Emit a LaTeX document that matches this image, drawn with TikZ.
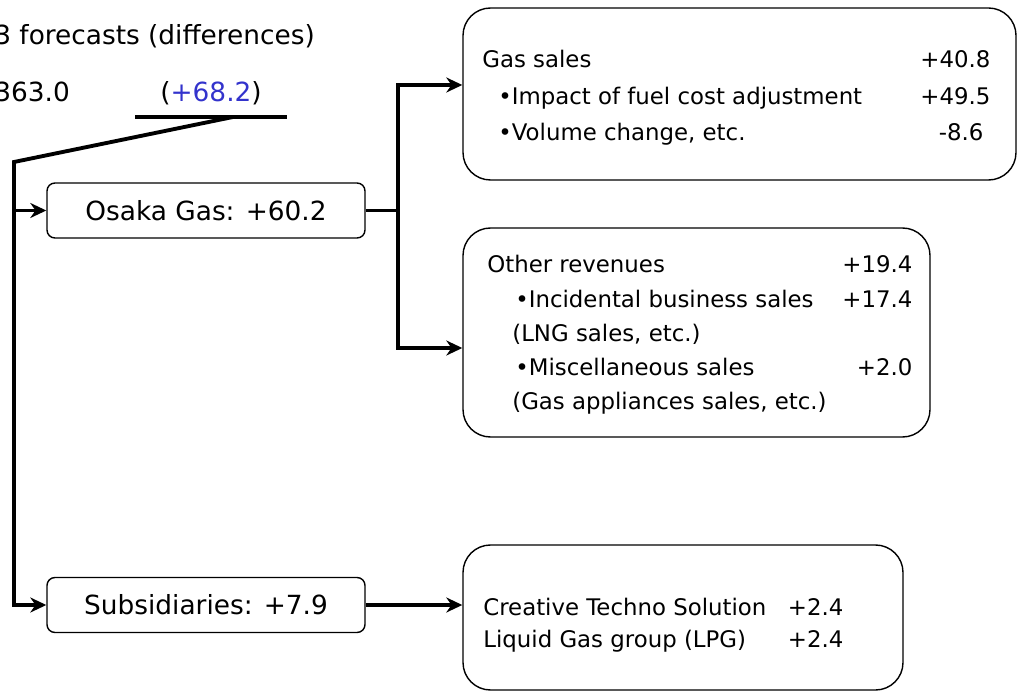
\documentclass[tikz,border=0pt]{standalone}
\usepackage{fontspec}
\setmainfont{DejaVu Sans}
\usetikzlibrary{arrows.meta}
\definecolor{diffblue}{RGB}{51,51,204}
\newcommand{\lblfont}{\fontsize{15}{18}\selectfont}
\newcommand{\rowfont}[1]{\fontsize{13}{#1}\selectfont}

\begin{document}
\begin{tikzpicture}[
		bar/.style={line width=2.2pt},
		arr/.style={bar, -{Stealth[length=3.2mm,width=3mm]}},
		lbl/.style={draw, line width=0.8pt, rounded corners=0.16cm, minimum width=6.36cm, minimum height=1.1cm, inner sep=0pt, font=\lblfont},
		rbox/.style={draw, line width=0.8pt, rounded corners=0.55cm, inner sep=0pt},
		rtxt/.style={anchor=base west, inner sep=0pt}
	]
		\useasboundingbox (0,0) rectangle (20.42,13.94);

		\node[rtxt, font=\lblfont] at (-0.12,13.04) (title) {3 forecasts (differences)};
		\node[rtxt, font=\lblfont] at (-0.12,11.9) (total) {363.0};
		\node[rtxt, font=\lblfont] at (3.2,11.9) (diff) {(\textcolor{diffblue}{+68.2})};

		\node[lbl] at (4.12,9.73) (osaka) {Osaka Gas: +60.2};
		\node[lbl] at (4.12,1.84) (subs) {Subsidiaries: +7.9};

		\node[rbox, minimum width=11.06cm, minimum height=3.44cm] at (14.79,12.06) (gas) {};
		\node[rbox, minimum width=9.34cm, minimum height=4.18cm] at (13.93,7.29) (other) {};
		\node[rbox, minimum width=8.8cm, minimum height=2.9cm] at (13.66,1.59) (group) {};

		\node[rtxt, font={\rowfont{20.5pt}}] at (9.64,12.58) (gastxt) {%
			\begin{tabular*}{10.16cm}[t]{@{}l@{\extracolsep{\fill}}r@{}}
				Gas sales & +40.8\\
				\hspace*{0.32cm}•Impact of fuel cost adjustment & +49.5\\
				\hspace*{0.32cm}•Volume change, etc. & -8.6\hspace*{0.14cm}
			\end{tabular*}};
		\node[rtxt, font={\rowfont{19.45pt}}] at (9.74,8.48) (othertxt) {%
			\begin{tabular*}{8.5cm}[t]{@{}l@{\extracolsep{\fill}}r@{}}
				Other revenues & +19.4\\
				\hspace*{0.56cm}•Incidental business sales & +17.4\\
				\hspace*{0.5cm}(LNG sales, etc.) & \\
				\hspace*{0.56cm}•Miscellaneous sales & +2.0\\
				\hspace*{0.5cm}(Gas appliances sales, etc.) &
			\end{tabular*}};
		\node[rtxt, font={\rowfont{18.7pt}}] at (9.66,1.64) (grouptxt) {%
			\begin{tabular*}{7.2cm}[t]{@{}l@{\extracolsep{\fill}}r@{}}
				Creative Techno Solution & +2.4\\
				Liquid Gas group (LPG) & +2.4
			\end{tabular*}};

		% underline and trunk
		\coordinate (ulL) at (2.7,11.6);
		\coordinate (ulR) at (5.74,11.6);
		\coordinate (ulM) at (4.66,11.6);
		\coordinate (trunk) at (0.28,10.7);
		\draw[bar] (ulL) -- (ulR);
		\draw[arr] (ulM) -- (trunk) -- (trunk |- subs) -- (subs);
		\draw[arr] (trunk |- osaka) -- (osaka);

		% fork to the right
		\coordinate (forkT) at (7.96,12.24);
		\coordinate (forkB) at (7.96,6.98);
		\draw[bar] (osaka) -- (osaka -| forkT);
		\draw[arr] (forkB) -- (forkT) -- (forkT -| gas.west);
		\draw[arr] (forkT) -- (forkB) -- (forkB -| other.west);
		\draw[arr] (subs) -- (subs -| group.west);
\end{tikzpicture}
\end{document}
